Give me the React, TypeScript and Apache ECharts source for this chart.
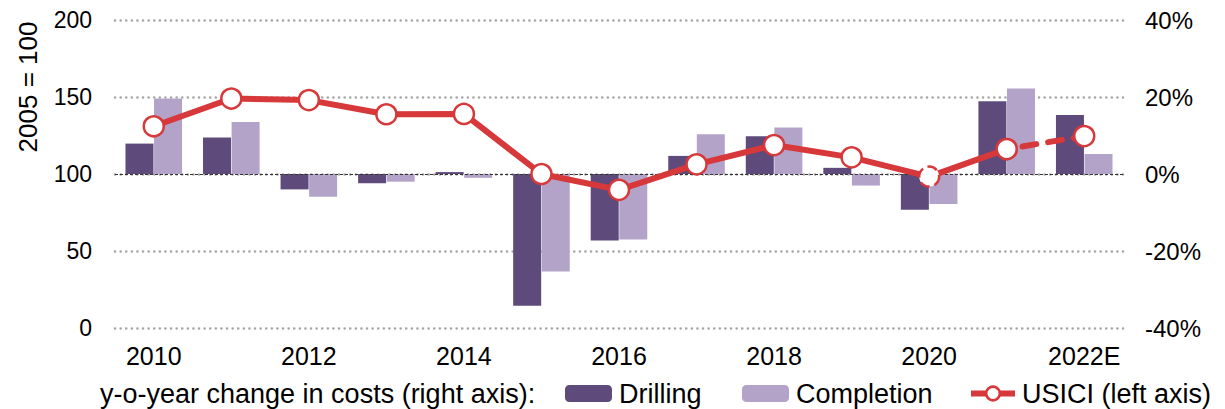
import React, { useEffect, useRef } from "react";
import * as echarts from "echarts";

const categories = ["2010", "2011", "2012", "2013", "2014", "2015", "2016", "2017", "2018", "2019", "2020", "2021", "2022E"];
const drilling = [7.9, 9.5, -4.0, -2.4, 0.5, -34.2, -17.3, 4.7, 9.8, 1.6, -9.3, 18.9, 15.3];
const completion = [19.6, 13.5, -5.9, -2.0, -1.0, -25.3, -17.0, 10.3, 12.1, -3.0, -7.8, 22.2, 5.2];
const usici = [131, 149, 148, 138.8, 139, 100, 89.7, 106.3, 118.8, 110.8, 98.3, 116.2, 124.6];
const leftTicks = { min: 0, max: 200, interval: 50 };
const rightTicks = { min: -40, max: 40, interval: 20 };

const RED = "#d7383a";
const DRILL = "#5e4a7b";
const COMP = "#b3a3c9";
const FONT = "Liberation Sans, Arial, sans-serif";

export default function App() {
  const ref = useRef<HTMLDivElement>(null);
  useEffect(() => {
    if (!ref.current) return;
    const chart = echarts.init(ref.current, undefined, { renderer: "svg" });
    const n = categories.length;
    const solid = usici.map((v, i) => (i < n - 1 ? { value: v, itemStyle: i === 10 ? { borderType: "dashed" } : undefined } : null));
    const dashed = usici.map((v, i) => (i >= n - 2 ? v : null));
    const symbolStyle = { color: "#fff", borderColor: RED, borderWidth: 2.5 };
    const legendBase = {
      top: 380, itemHeight: 17, padding: 0,
      textStyle: { fontSize: 27, color: "#000", fontFamily: FONT, padding: [0, 0, 0, 2] },
    };
    chart.setOption({
      animation: false,
      textStyle: { fontFamily: FONT, color: "#000" },
      grid: { left: 115, right: 102, top: 20, bottom: 81, containLabel: false },
      xAxis: {
        type: "category",
        data: categories,
        axisLine: { show: false },
        axisTick: { show: false },
        axisLabel: { interval: 1, fontSize: 25, color: "#000", margin: 15, fontFamily: FONT },
        splitLine: { show: false },
      },
      yAxis: [
        {
          type: "value",
          ...leftTicks,
          position: "left",
          axisLine: { show: false },
          axisTick: { show: false },
          axisLabel: { fontSize: 23, color: "#000", margin: 23, fontFamily: FONT },
          splitLine: { show: true, lineStyle: { color: "#a6a6a6", type: [0.1, 5.5], width: 2.5, cap: "round" } },
        },
        {
          type: "value",
          ...rightTicks,
          position: "right",
          axisLine: { show: false },
          axisTick: { show: false },
          axisLabel: { fontSize: 24, color: "#000", margin: 22, formatter: "{value}%", fontFamily: FONT },
          splitLine: { show: false },
        },
      ],
      legend: [
        { ...legendBase, data: ["Drilling"], left: 565, itemWidth: 47 },
        { ...legendBase, data: ["Completion"], left: 742, itemWidth: 47 },
        {
          ...legendBase, data: ["USICI (left axis)"], left: 968, itemWidth: 44,
          lineStyle: { width: 6, color: RED },
          itemStyle: { color: "#fff", borderColor: RED, borderWidth: 2.5 },
        },
      ],
      graphic: [
        {
          type: "text", left: 100, top: 380,
          style: { text: "y-o-year change in costs (right axis):", fontSize: 27, fill: "#000", fontFamily: FONT },
        },
        {
          type: "text", x: 28, y: 87, rotation: Math.PI / 2,
          style: { text: "2005 = 100", fontSize: 26, fill: "#000", fontFamily: FONT, textAlign: "center", textVerticalAlign: "middle" },
        },
      ],
      series: [
        {
          name: "Drilling", type: "bar", yAxisIndex: 1, data: drilling, barWidth: 28, barGap: "2%",
          itemStyle: { color: DRILL },
          markLine: {
            silent: true, symbol: "none", label: { show: false },
            lineStyle: { color: "#333", type: [3, 2], width: 1.2 },
            data: [{ yAxis: 0 }],
          },
        },
        {
          name: "Completion", type: "bar", yAxisIndex: 1, data: completion, barWidth: 28,
          itemStyle: { color: COMP },
        },
        {
          name: "USICI (left axis)", type: "line", yAxisIndex: 0, data: solid,
          symbol: "circle", symbolSize: 20, showAllSymbol: true,
          lineStyle: { color: RED, width: 6 },
          itemStyle: symbolStyle,
          z: 5,
        },
        {
          name: "USICI dashed", type: "line", yAxisIndex: 0, data: dashed,
          symbol: "circle", symbolSize: 20, showAllSymbol: true,
          lineStyle: { color: RED, width: 6, type: [14, 12], cap: "round", dashOffset: -16 },
          itemStyle: symbolStyle,
          z: 5,
        },
      ],
    });
    return () => chart.dispose();
  }, []);
  return <div ref={ref} style={{ width: 1225, height: 409, position: "absolute", left: 0, top: 0 }} />;
}
